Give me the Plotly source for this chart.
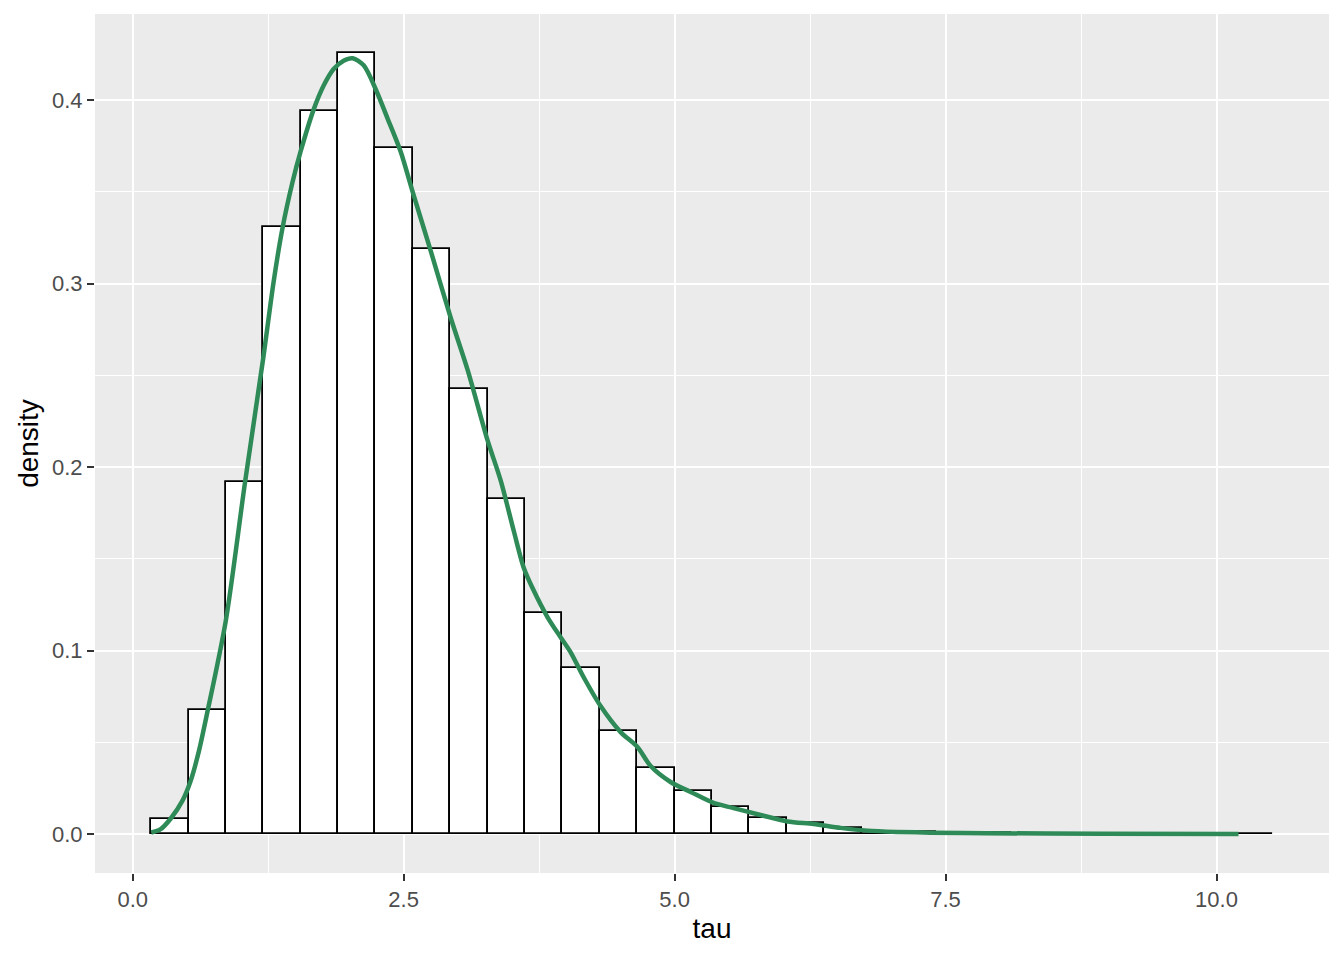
import numpy as np
import plotly.graph_objects as go

# Histogram: 30 bins, density scale
BIN_START = 0.17
BIN_WIDTH = 0.345
hist_density = [0.0082, 0.0675, 0.1916, 0.3309, 0.3940, 0.4255, 0.3739, 0.3190,
                0.2428, 0.1826, 0.1203, 0.0904, 0.0561, 0.0360, 0.0235, 0.0145,
                0.0088, 0.0060, 0.0034, 0.0013, 0.0008, 0.0005, 0.0003, 0.0002,
                0.0001, 0.0001, 0.0, 0.0, 0.0, 0.0001]

# Kernel density estimate
dens_x = [0.171, 0.258, 0.351, 0.458, 0.535, 0.610, 0.683, 0.858, 1.036, 1.206,
          1.300, 1.381, 1.473, 1.550, 1.670, 1.762, 1.854, 1.946, 2.030, 2.131,
          2.242, 2.352, 2.472, 2.583, 2.749, 2.934, 3.090, 3.275, 3.395, 3.515,
          3.607, 3.699, 3.828, 3.948, 4.041, 4.161, 4.317, 4.502, 4.659, 4.779,
          4.963, 5.148, 5.360, 5.544, 5.793, 6.042, 6.282, 6.531, 6.780, 7.057,
          7.362, 7.869, 8.930, 10.203]
dens_y = [0.0008, 0.0026, 0.0084, 0.0180, 0.0290, 0.0450, 0.0648, 0.1159, 0.1916, 0.2601,
          0.3010, 0.3300, 0.3550, 0.3722, 0.3950, 0.4080, 0.4170, 0.4215, 0.4229, 0.4190,
          0.4060, 0.3900, 0.3720, 0.3500, 0.3180, 0.2814, 0.2530, 0.2144, 0.1927, 0.1654,
          0.1453, 0.1328, 0.1181, 0.1072, 0.0990, 0.0854, 0.0697, 0.0555, 0.0473, 0.0370,
          0.0283, 0.0229, 0.0169, 0.0141, 0.0103, 0.0068, 0.0054, 0.0033, 0.0018, 0.0011,
          0.0007, 0.0004, 0.0001, 0.0]

x_ticks = [0, 2.5, 5, 7.5, 10]
x_minor = [1.25, 3.75, 6.25, 8.75]
y_ticks = [0, 0.1, 0.2, 0.3, 0.4]
y_minor = [0.05, 0.15, 0.25, 0.35]

centers = BIN_START + BIN_WIDTH * (np.arange(len(hist_density)) + 0.5)

fig = go.Figure()
fig.add_trace(go.Bar(
    x=centers, y=hist_density, width=BIN_WIDTH,
    marker=dict(color='white', line=dict(color='black', width=1.8)),
    showlegend=False
))
fig.add_trace(go.Scatter(
    x=dens_x, y=dens_y, mode='lines',
    line=dict(color='#2E8B57', width=4.5, shape='spline', smoothing=0.8),
    showlegend=False
))

axis_common = dict(
    showgrid=True, gridcolor='white', gridwidth=2.1,
    zeroline=False, showline=False,
    ticks='outside', ticklen=7, tickwidth=2, tickcolor='#333333',
    tickfont=dict(family='Liberation Sans, Arial', size=22, color='#4D4D4D'),
    tickformat='.1f', automargin=False,
)

fig.update_layout(
    width=1344, height=960,
    margin=dict(l=87, r=23, t=6, b=95),
    paper_bgcolor='white', plot_bgcolor='#EBEBEB',
    bargap=0,
    font=dict(family='Liberation Sans, Arial'),
    xaxis=dict(
        **axis_common,
        range=[-0.348, 11.038], tickmode='array', tickvals=x_ticks,
        minor=dict(tickmode='array', tickvals=x_minor, showgrid=True,
                   gridcolor='white', gridwidth=1, ticks=''),
        title=dict(text='tau', font=dict(size=28, color='black'), standoff=6),
    ),
    yaxis=dict(
        **axis_common,
        range=[-0.0213, 0.447], tickmode='array', tickvals=y_ticks,
        minor=dict(tickmode='array', tickvals=y_minor, showgrid=True,
                   gridcolor='white', gridwidth=1, ticks=''),
        title=dict(text='density', font=dict(size=28, color='black'), standoff=5),
    ),
)

fig.write_html("out.html")
